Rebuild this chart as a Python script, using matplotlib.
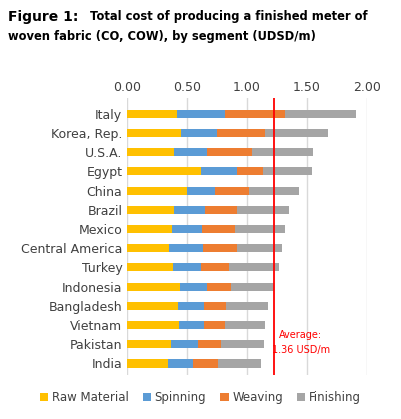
import matplotlib.pyplot as plt
import numpy as np

countries = ['Italy', 'Korea, Rep.', 'U.S.A.', 'Egypt', 'China', 'Brazil', 'Mexico',
             'Central America', 'Turkey', 'Indonesia', 'Bangladesh', 'Vietnam', 'Pakistan', 'India']
# cumulative ends
cum_raw = [0.414, 0.447, 0.389, 0.614, 0.497, 0.389, 0.372, 0.347, 0.381, 0.439, 0.422, 0.431, 0.364, 0.339]
cum_spin = [0.819, 0.747, 0.664, 0.919, 0.736, 0.647, 0.622, 0.631, 0.614, 0.667, 0.639, 0.639, 0.589, 0.547]
cum_weave = [1.314, 1.147, 1.039, 1.136, 1.014, 0.914, 0.897, 0.914, 0.847, 0.864, 0.822, 0.814, 0.781, 0.756]
cum_fin = [1.906, 1.672, 1.547, 1.539, 1.431, 1.347, 1.314, 1.289, 1.264, 1.228, 1.172, 1.147, 1.139, 1.114]
avg_line = 1.228

segments = ['Raw Material', 'Spinning', 'Weaving', 'Finishing']
colors = ['#FFC000', '#5B9BD5', '#ED7D31', '#A5A5A5']

fig = plt.figure(figsize=(4.01, 4.19), dpi=100)
ax = fig.add_axes([0.317, 0.105, 0.598, 0.66])
y = np.arange(len(countries))
lefts = [np.zeros(len(countries)), np.array(cum_raw), np.array(cum_spin), np.array(cum_weave)]
rights = [np.array(cum_raw), np.array(cum_spin), np.array(cum_weave), np.array(cum_fin)]
for l, r, c, s in zip(lefts, rights, colors, segments):
    ax.barh(y, r - l, left=l, height=0.42, color=c, label=s, zorder=2)

ax.set_ylim(len(countries) - 0.4, -0.8)
ax.set_xlim(0, 2.0)
ax.set_xticks([0, 0.5, 1.0, 1.5, 2.0])
ax.set_xticklabels(['0.00', '0.50', '1.00', '1.50', '2.00'])
ax.xaxis.tick_top()
ax.set_yticks(y)
ax.set_yticklabels(countries)
ax.tick_params(length=0, labelsize=9, colors='#404040')
ax.grid(axis='x', color='#D9D9D9', linewidth=1, zorder=0)
for sp in ax.spines.values():
    sp.set_visible(False)

ax.axvline(avg_line, color='red', linewidth=1.3, zorder=3)
ax.text(1.45, 11.9, 'Average:\n1.36 USD/m', color='red', fontsize=7, ha='center',
        va='center', linespacing=1.6)

fig.text(0.02, 0.96, 'Figure 1:', fontsize=10, fontweight='bold', va='center')
fig.text(0.225, 0.96, 'Total cost of producing a finished meter of', fontsize=8.3,
         fontweight='bold', va='center')
fig.text(0.02, 0.912, 'woven fabric (CO, COW), by segment (UDSD/m)', fontsize=8.3,
         fontweight='bold', va='center')

fig.legend(loc='lower center', bbox_to_anchor=(0.5, 0.01), ncol=4, frameon=False,
           fontsize=8.5, handlelength=0.7, handleheight=0.7, columnspacing=1.2,
           handletextpad=0.3, labelcolor='#404040')

fig.savefig('out.png', dpi=100)
